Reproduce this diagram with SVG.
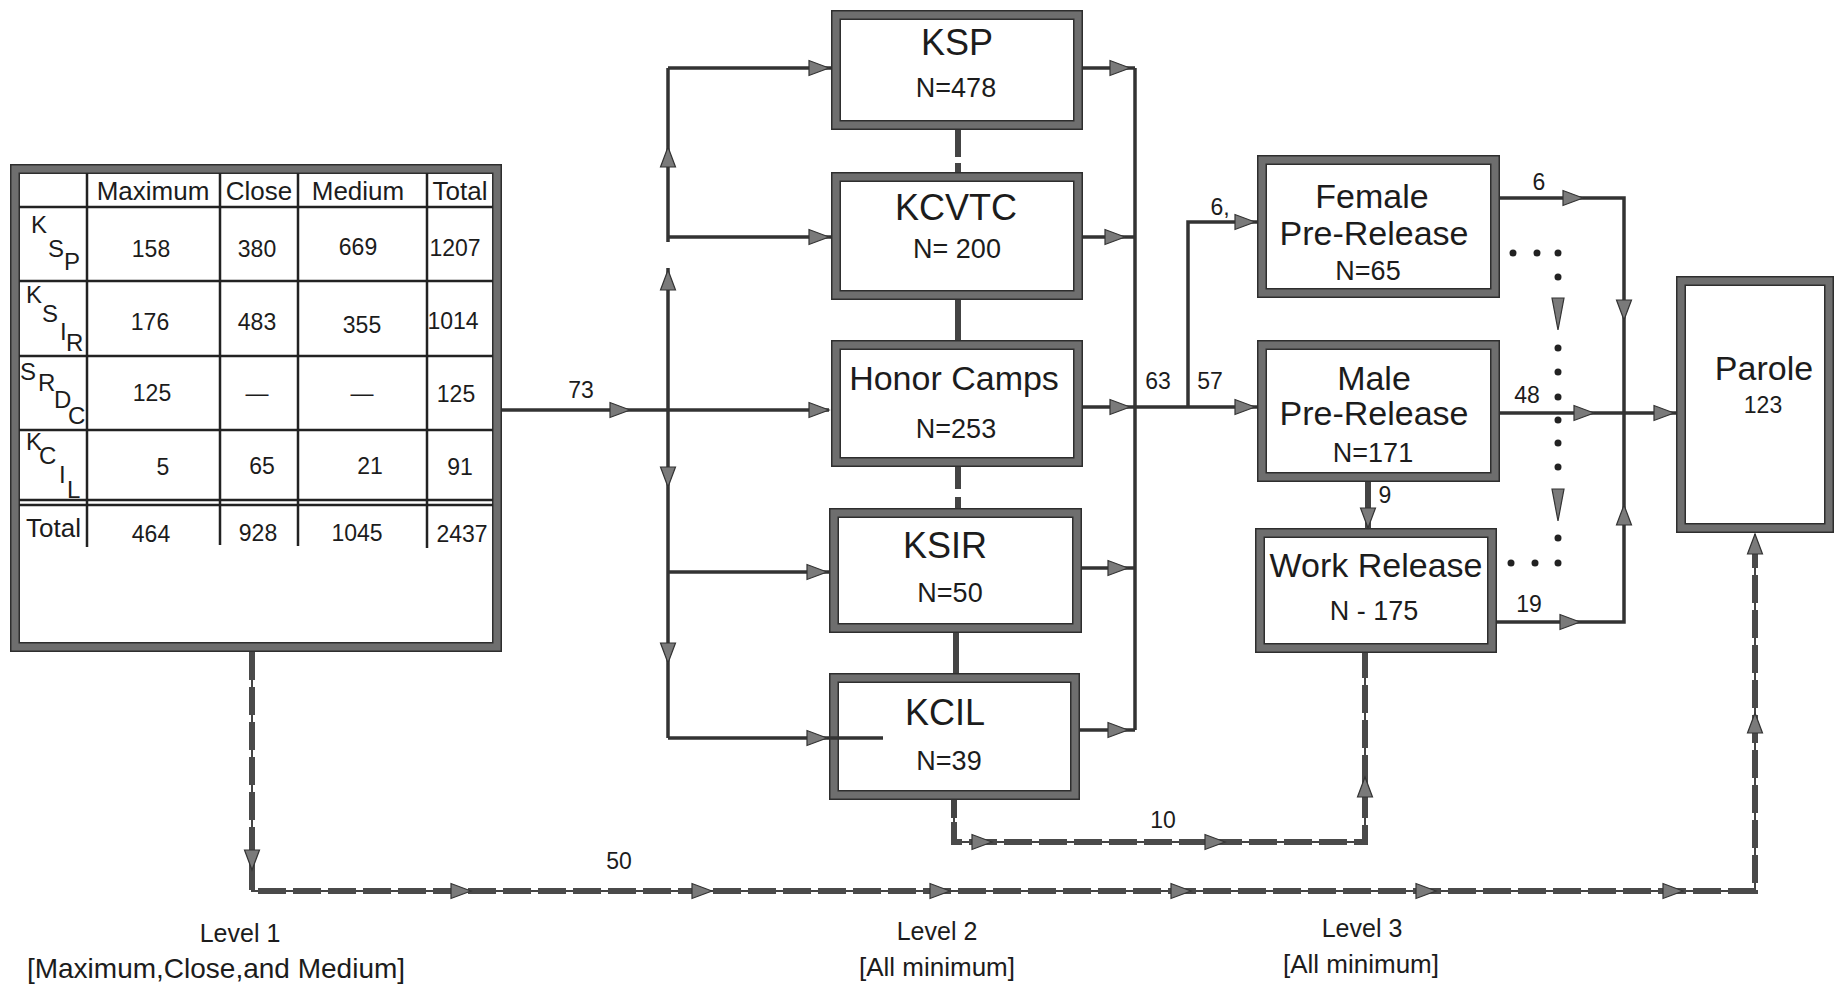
<svg xmlns="http://www.w3.org/2000/svg" xmlns:xlink="http://www.w3.org/1999/xlink" width="1843" height="988" viewBox="0 0 1843 988">
<style>
text{font-family:"Liberation Sans",Arial,sans-serif;fill:#1c1c1c}
.c{text-anchor:middle}
.bd{fill:#fff;stroke:#2e2e2e;stroke-width:10}
.bg{fill:none;stroke:#6e6e6e;stroke-width:7}
.ln{fill:none;stroke:#333;stroke-width:3.5}
.thk{fill:none;stroke:#444;stroke-width:6}
.thn{fill:none;stroke:#444;stroke-width:2}
.dsh{fill:none;stroke:#4a4a4a;stroke-width:6;stroke-dasharray:28 7}
.grid{stroke:#222;stroke-width:2.5}
.ah{fill:#7a7a7a;stroke:#333;stroke-width:1.2}
.dot{fill:#222}
.t1{font-size:36px}
.t2{font-size:27px}
.t3{font-size:34px}
.lbl{font-size:23px}
.th{font-size:26px}
.td{font-size:23px}
.rl{font-size:24px}
.lv{font-size:25px}
</style>
<defs>
<path id="ah" class="ah" d="M0,0 L-20,-7.5 L-20,7.5 Z"/>
<path id="dah" class="ah" d="M0,0 L-32,-6 L-32,6 Z"/>
</defs>

<g id="table">
<rect class="bd" x="15" y="169" width="482" height="478"/>
<rect class="bg" x="15" y="169" width="482" height="478"/>
<line class="grid" x1="19" y1="207" x2="493" y2="207"/>
<line class="grid" x1="19" y1="281" x2="493" y2="281"/>
<line class="grid" x1="19" y1="356" x2="493" y2="356"/>
<line class="grid" x1="19" y1="430" x2="493" y2="430"/>
<line class="grid" x1="19" y1="500" x2="493" y2="500"/>
<line class="grid" x1="19" y1="505" x2="493" y2="505"/>
<line class="grid" x1="87" y1="173" x2="87" y2="547"/>
<line class="grid" x1="220" y1="173" x2="220" y2="545"/>
<line class="grid" x1="298" y1="173" x2="298" y2="546"/>
<line class="grid" x1="427" y1="173" x2="427" y2="548"/>
<text class="th c" x="153" y="200">Maximum</text>
<text class="th c" x="259" y="200">Close</text>
<text class="th c" x="358" y="200">Medium</text>
<text class="th c" x="460" y="200">Total</text>
<text class="rl" x="31" y="233">K</text><text class="rl" x="48" y="257">S</text><text class="rl" x="64" y="270">P</text>
<text class="rl" x="26" y="303">K</text><text class="rl" x="42" y="322">S</text><text class="rl" x="60" y="340">I</text><text class="rl" x="66" y="351">R</text>
<text class="rl" x="20" y="380">S</text><text class="rl" x="38" y="391">R</text><text class="rl" x="54" y="408">D</text><text class="rl" x="68" y="424">C</text>
<text class="rl" x="26" y="450">K</text><text class="rl" x="39" y="464">C</text><text class="rl" x="59" y="483">I</text><text class="rl" x="67" y="498">L</text>
<text class="td c" x="151" y="257">158</text><text class="td c" x="257" y="257">380</text><text class="td c" x="358" y="255">669</text><text class="td c" x="455" y="256">1207</text>
<text class="td c" x="150" y="330">176</text><text class="td c" x="257" y="330">483</text><text class="td c" x="362" y="333">355</text><text class="td c" x="453" y="329">1014</text>
<text class="td c" x="152" y="401">125</text><text class="td c" x="257" y="401">—</text><text class="td c" x="362" y="401">—</text><text class="td c" x="456" y="402">125</text>
<text class="td c" x="163" y="475">5</text><text class="td c" x="262" y="474">65</text><text class="td c" x="370" y="474">21</text><text class="td c" x="460" y="475">91</text>
<text class="th" x="26" y="537">Total</text>
<text class="td c" x="151" y="542">464</text><text class="td c" x="258" y="541">928</text><text class="td c" x="357" y="541">1045</text><text class="td c" x="462" y="542">2437</text>
</g>

<g id="ksp">
<rect class="bd" x="836" y="15" width="242" height="110"/><rect class="bg" x="836" y="15" width="242" height="110"/>
<text class="t1 c" x="957" y="55">KSP</text>
<text class="t2 c" x="956" y="97">N=478</text>
</g>
<g id="kcvtc">
<rect class="bd" x="836" y="177" width="242" height="118"/><rect class="bg" x="836" y="177" width="242" height="118"/>
<text class="t1 c" x="956" y="220">KCVTC</text>
<text class="t2 c" x="957" y="258">N= 200</text>
</g>
<g id="honor">
<rect class="bd" x="836" y="345" width="242" height="117"/><rect class="bg" x="836" y="345" width="242" height="117"/>
<text class="t3 c" x="954" y="390">Honor Camps</text>
<text class="t2 c" x="956" y="438">N=253</text>
</g>
<g id="ksir">
<rect class="bd" x="834" y="513" width="243" height="115"/><rect class="bg" x="834" y="513" width="243" height="115"/>
<text class="t1 c" x="945" y="558">KSIR</text>
<text class="t2 c" x="950" y="602">N=50</text>
</g>
<g id="kcil">
<rect class="bd" x="834" y="678" width="241" height="117"/><rect class="bg" x="834" y="678" width="241" height="117"/>
<text class="t1 c" x="945" y="725">KCIL</text>
<text class="t2 c" x="949" y="770">N=39</text>
</g>
<g id="female">
<rect class="bd" x="1262" y="160" width="233" height="133"/><rect class="bg" x="1262" y="160" width="233" height="133"/>
<text class="t3 c" x="1372" y="208">Female</text>
<text class="t3 c" x="1374" y="245">Pre-Release</text>
<text class="t2 c" x="1368" y="280">N=65</text>
</g>
<g id="male">
<rect class="bd" x="1262" y="345" width="233" height="132"/><rect class="bg" x="1262" y="345" width="233" height="132"/>
<text class="t3 c" x="1374" y="390">Male</text>
<text class="t3 c" x="1374" y="425">Pre-Release</text>
<text class="t2 c" x="1373" y="462">N=171</text>
</g>
<g id="workrelease">
<rect class="bd" x="1260" y="533" width="232" height="115"/><rect class="bg" x="1260" y="533" width="232" height="115"/>
<text class="t3 c" x="1376" y="577">Work Release</text>
<text class="t2 c" x="1374" y="620">N - 175</text>
</g>
<g id="parole">
<rect class="bd" x="1681" y="281" width="148" height="247"/><rect class="bg" x="1681" y="281" width="148" height="247"/>
<text class="t3 c" x="1764" y="380">Parole</text>
<text class="lbl c" x="1763" y="413">123</text>
</g>

<g id="connectors">
<path class="ln" d="M502,410 H829"/>
<path class="ln" d="M668,68 V242 M668,268 V738"/>
<path class="ln" d="M668,68 H831 M668,237 H831 M668,572 H829 M668,738 H883"/>
<path class="ln" d="M1083,68 H1135 M1083,237 H1135 M1083,407 H1257 M1082,568 H1135 M1080,730 H1135 M1135,68 V730"/>
<path class="ln" d="M1188,407 V222 H1257"/>
<path class="ln" d="M1500,198 H1624 V622 H1497"/>
<path class="ln" d="M1500,413 H1676"/>
<path class="thk" d="M1368,482 V528"/>
<path class="thk" d="M958,130 V157 M958,163 V172 M958,300 V340 M958,467 V489 M958,497 V508 M956,633 V673"/>
<path class="thk" d="M954,800 V818"/>
<path class="thn" d="M954,800 V842 H1365 V653"/>
<path class="dsh" d="M954,822 V842 H1365 V653"/>
<path class="thn" d="M252,652 V891 H1755 V534"/>
<path class="dsh" d="M252,652 V891 H1755 V534"/>

<use xlink:href="#ah" href="#ah" transform="translate(630,410)"/>
<use xlink:href="#ah" href="#ah" transform="translate(829,68)"/>
<use xlink:href="#ah" href="#ah" transform="translate(829,237)"/>
<use xlink:href="#ah" href="#ah" transform="translate(829,410)"/>
<use xlink:href="#ah" href="#ah" transform="translate(827,572)"/>
<use xlink:href="#ah" href="#ah" transform="translate(827,738)"/>
<use xlink:href="#ah" href="#ah" transform="translate(668,147) rotate(-90)"/>
<use xlink:href="#ah" href="#ah" transform="translate(668,270) rotate(-90)"/>
<use xlink:href="#ah" href="#ah" transform="translate(668,487) rotate(90)"/>
<use xlink:href="#ah" href="#ah" transform="translate(668,663) rotate(90)"/>
<use xlink:href="#ah" href="#ah" transform="translate(1130,68)"/>
<use xlink:href="#ah" href="#ah" transform="translate(1125,237)"/>
<use xlink:href="#ah" href="#ah" transform="translate(1130,407)"/>
<use xlink:href="#ah" href="#ah" transform="translate(1128,568)"/>
<use xlink:href="#ah" href="#ah" transform="translate(1128,730)"/>
<use xlink:href="#ah" href="#ah" transform="translate(1255,407)"/>
<use xlink:href="#ah" href="#ah" transform="translate(1255,222)"/>
<use xlink:href="#ah" href="#ah" transform="translate(1583,198)"/>
<use xlink:href="#ah" href="#ah" transform="translate(1624,320) rotate(90)"/>
<use xlink:href="#ah" href="#ah" transform="translate(1624,505) rotate(-90)"/>
<use xlink:href="#ah" href="#ah" transform="translate(1580,622)"/>
<use xlink:href="#ah" href="#ah" transform="translate(1594,413)"/>
<use xlink:href="#ah" href="#ah" transform="translate(1674,413)"/>
<use xlink:href="#ah" href="#ah" transform="translate(1368,528) rotate(90)"/>
<use xlink:href="#ah" href="#ah" transform="translate(992,842)"/>
<use xlink:href="#ah" href="#ah" transform="translate(1225,842)"/>
<use xlink:href="#ah" href="#ah" transform="translate(1365,777) rotate(-90)"/>
<use xlink:href="#ah" href="#ah" transform="translate(252,870) rotate(90)"/>
<use xlink:href="#ah" href="#ah" transform="translate(471,891)"/>
<use xlink:href="#ah" href="#ah" transform="translate(712,891)"/>
<use xlink:href="#ah" href="#ah" transform="translate(950,891)"/>
<use xlink:href="#ah" href="#ah" transform="translate(1191,891)"/>
<use xlink:href="#ah" href="#ah" transform="translate(1436,891)"/>
<use xlink:href="#ah" href="#ah" transform="translate(1683,891)"/>
<use xlink:href="#ah" href="#ah" transform="translate(1755,713) rotate(-90)"/>
<use xlink:href="#ah" href="#ah" transform="translate(1755,534) rotate(-90)"/>

<g id="dotted">
<circle class="dot" cx="1513" cy="253" r="3.5"/><circle class="dot" cx="1537" cy="253" r="3.5"/><circle class="dot" cx="1558" cy="253" r="3.5"/>
<circle class="dot" cx="1558" cy="277" r="3.5"/>
<use xlink:href="#dah" href="#dah" transform="translate(1558,330) rotate(90)"/>
<circle class="dot" cx="1558" cy="348" r="3.5"/><circle class="dot" cx="1558" cy="372" r="3.5"/><circle class="dot" cx="1558" cy="397" r="3.5"/>
<circle class="dot" cx="1558" cy="420" r="3.5"/><circle class="dot" cx="1558" cy="443" r="3.5"/><circle class="dot" cx="1558" cy="467" r="3.5"/>
<use xlink:href="#dah" href="#dah" transform="translate(1558,521) rotate(90)"/>
<circle class="dot" cx="1558" cy="538" r="3.5"/>
<circle class="dot" cx="1511" cy="563" r="3.5"/><circle class="dot" cx="1535" cy="563" r="3.5"/><circle class="dot" cx="1558" cy="563" r="3.5"/>
</g>

<text class="lbl c" x="581" y="398">73</text>
<text class="lbl c" x="1158" y="389">63</text>
<text class="lbl c" x="1210" y="389">57</text>
<text class="lbl c" x="1220" y="215">6,</text>
<text class="lbl c" x="1539" y="190">6</text>
<text class="lbl c" x="1527" y="403">48</text>
<text class="lbl c" x="1385" y="503">9</text>
<text class="lbl c" x="1529" y="612">19</text>
<text class="lbl c" x="1163" y="828">10</text>
<text class="lbl c" x="619" y="869">50</text>
</g>

<g id="levels">
<text class="lv c" x="240" y="942">Level 1</text>
<text class="lv c" x="216" y="978" style="font-size:28px">[Maximum,Close,and Medium]</text>
<text class="lv c" x="937" y="940">Level 2</text>
<text class="lv c" x="937" y="976" style="font-size:26px">[All minimum]</text>
<text class="lv c" x="1362" y="937">Level 3</text>
<text class="lv c" x="1361" y="973" style="font-size:26px">[All minimum]</text>
</g>
</svg>
